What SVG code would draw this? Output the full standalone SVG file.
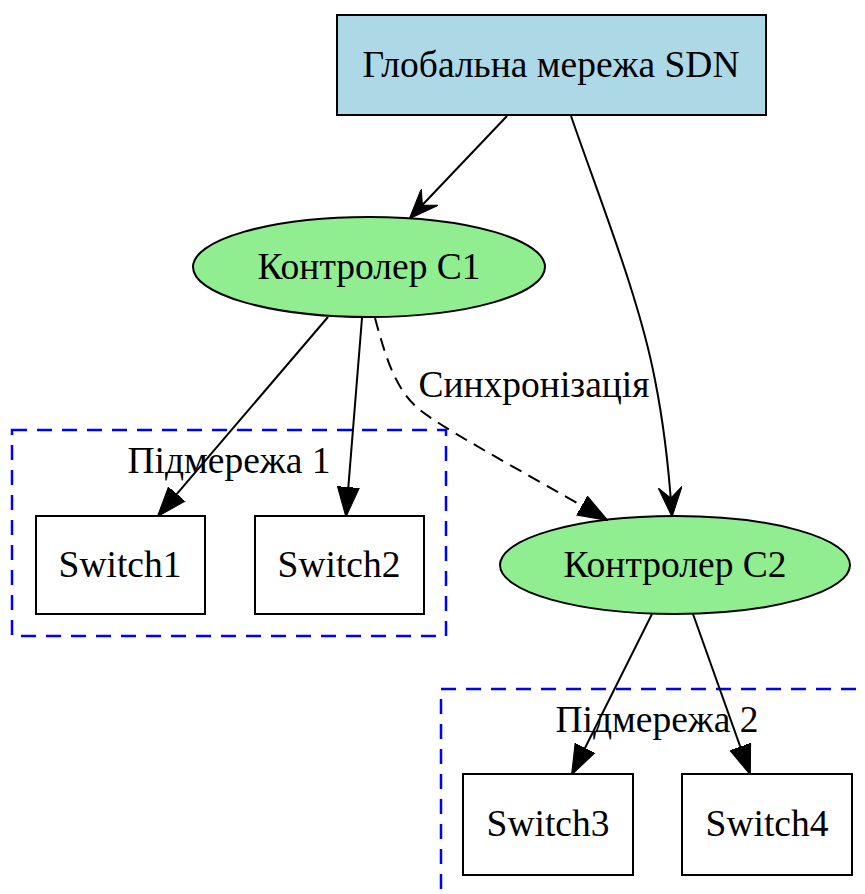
<svg xmlns="http://www.w3.org/2000/svg" width="865" height="894" viewBox="0 0 865 894">
<style>
text{font-family:"Liberation Serif","Times New Roman",serif;font-size:37.5px;fill:#000;text-anchor:middle}
.cluster{fill:none;stroke:#0000ff;stroke-width:2.5;stroke-dasharray:15,10}
.box{fill:#fff;stroke:#000;stroke-width:2}
.ctl{fill:#90ee90;stroke:#000;stroke-width:2}
.edge{fill:none;stroke:#000;stroke-width:2}
.dashed{stroke-dasharray:13,8}
</style>
<defs>
<marker id="tri" markerUnits="userSpaceOnUse" viewBox="0 0 30 24" markerWidth="30" markerHeight="24" refX="29" refY="12" orient="auto">
<path d="M0,1 L30,12 L0,23 Z" fill="#000" stroke="#000" stroke-width="1"/>
</marker>
<marker id="vee" markerUnits="userSpaceOnUse" viewBox="0 0 30 24" markerWidth="30" markerHeight="24" refX="29" refY="12" orient="auto">
<path d="M0,0 L30,12 L0,24 L11,12 Z" fill="#000" stroke="#000" stroke-width="1"/>
</marker>
</defs>
<g id="cluster1">
<rect class="cluster" x="12" y="430" width="434" height="206"/>
<text x="229" y="473">Підмережа 1</text>
</g>
<g id="cluster2">
<rect class="cluster" x="441" y="689" width="500" height="300"/>
<text x="657" y="732">Підмережа 2</text>
</g>
<g id="global">
<rect x="337" y="15" width="429" height="100" fill="#add8e6" stroke="#000" stroke-width="2"/>
<text x="551" y="77">Глобальна мережа SDN</text>
</g>
<g id="c1">
<ellipse class="ctl" cx="369" cy="267" rx="176" ry="50"/>
<text x="369" y="279">Контролер С1</text>
</g>
<g id="c2">
<ellipse class="ctl" cx="675" cy="565" rx="175" ry="49"/>
<text x="675" y="577">Контролер С2</text>
</g>
<g id="switch1">
<rect class="box" x="36" y="516" width="169" height="98"/>
<text x="120" y="577">Switch1</text>
</g>
<g id="switch2">
<rect class="box" x="255" y="516" width="169" height="98"/>
<text x="339" y="577">Switch2</text>
</g>
<g id="switch3">
<rect class="box" x="463" y="774" width="170" height="101"/>
<text x="548" y="836">Switch3</text>
</g>
<g id="switch4">
<rect class="box" x="682" y="774" width="170" height="101"/>
<text x="767" y="836">Switch4</text>
</g>
<g id="connectors">
<path class="edge" d="M507,116 L410,218" marker-end="url(#vee)"/>
<path class="edge" d="M571,116 C600,200 640,300 655,380 C663,420 669,470 672,516" marker-end="url(#vee)"/>
<path class="edge" d="M328,317 L158,516" marker-end="url(#tri)"/>
<path class="edge" d="M362,318 L346,516" marker-end="url(#tri)"/>
<path class="edge dashed" d="M375,318 C385,355 395,390 420,410 C445,430 520,470 607,520" marker-end="url(#tri)"/>
<text x="534" y="397">Синхронізація</text>
<path class="edge" d="M652,614 L572,774" marker-end="url(#tri)"/>
<path class="edge" d="M693,614 L750,774" marker-end="url(#tri)"/>
</g>
</svg>
